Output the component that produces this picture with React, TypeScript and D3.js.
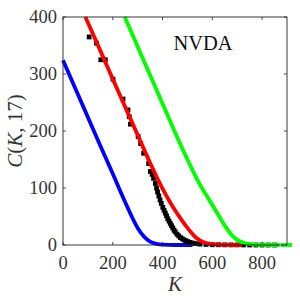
import React from "react";
import * as d3 from "d3";

// Strike K and call price C
const blueK = [0, 50, 100, 150, 200, 250, 275, 300, 325, 350, 375, 400, 450, 520];
const blueC = [324, 274, 224, 174, 125, 75, 51, 30, 15, 6, 2, 0.5, 0, 0];

const redK = [90, 150, 200, 250, 300, 350, 380, 400, 425, 450, 475, 500, 525, 550, 575, 600, 650, 720];
const redC = [400, 341, 291, 242, 193, 144, 116, 99, 79, 61, 45, 30, 17, 8, 3.5, 1.5, 0.3, 0];

const greenK = [248, 300, 350, 400, 450, 500, 550, 575, 600, 625, 650, 675, 700, 725, 750, 800, 870];
const greenC = [400, 348, 298, 248, 198, 150, 106, 88, 70, 52, 34, 19, 9, 4, 1.5, 0.3, 0];
const greenTailK = [882, 895, 907, 914];

const marketK = [105, 135, 152, 170, 201, 241, 261, 266, 271, 302, 312, 324, 344, 351, 358, 364, 371, 376, 380, 385, 390, 395, 401, 406, 411, 416, 421, 426, 431, 436, 441, 446, 451, 458, 465, 472, 479, 486, 493, 501, 510, 520, 532, 550, 575, 600, 625, 650, 675, 700, 725, 750, 775, 800, 825, 850];
const marketC = [365, 354, 325, 325, 291, 256, 237, 225, 212, 190, 178, 161, 143, 129, 124, 117, 108, 100, 93, 86, 79, 73, 66, 61, 56, 51, 46, 42, 38, 34, 30, 26, 23, 19, 16, 13, 11, 9, 7.5, 6, 4.5, 3.5, 2.5, 1.5, 1, 0.5, 0.4, 0.3, 0.2, 0.2, 0.1, 0.1, 0, 0, 0, 0];

const xTicks = [0, 200, 400, 600, 800];
const yTicks = [0, 100, 200, 300, 400];
const title = "NVDA";

const W = 300, H = 301;
const L = 63, R = 287, T = 17, B = 245;

export default function App() {
  const x = d3.scaleLinear().domain([0, 900]).range([L, R]);
  const y = d3.scaleLinear().domain([0, 400]).range([B, T]);
  const line = d3
    .line<[number, number]>()
    .x((d) => x(d[0]))
    .y((d) => y(d[1]))
    .curve(d3.curveMonotoneX);
  const pts = (ks: number[], cs: number[]) => ks.map((k, i) => [k, cs[i]] as [number, number]);
  const font = "'Liberation Serif', 'DejaVu Serif', serif";
  const tick = 3;
  return (
    <svg width={W} height={H} style={{ position: "absolute", left: 0, top: 0 }}>
      <rect x={0} y={0} width={W} height={H} fill="#fff" />
      {xTicks.map((t) => (
        <g key={"x" + t}>
          <line x1={x(t)} x2={x(t)} y1={B} y2={B - tick} stroke="#222" strokeWidth={0.8} />
          <line x1={x(t)} x2={x(t)} y1={T} y2={T + tick} stroke="#222" strokeWidth={0.8} />
          <text x={x(t)} y={268.5} textAnchor="middle" fontFamily={font} fontSize={18.5} fill="#333">
            {t}
          </text>
        </g>
      ))}
      {yTicks.map((t) => (
        <g key={"y" + t}>
          <line x1={L} x2={L + tick} y1={y(t)} y2={y(t)} stroke="#222" strokeWidth={0.8} />
          <line x1={R} x2={R - tick} y1={y(t)} y2={y(t)} stroke="#222" strokeWidth={0.8} />
          <text x={57} y={y(t) + 6.3} textAnchor="end" fontFamily={font} fontSize={18.5} fill="#333">
            {t}
          </text>
        </g>
      ))}
      <path d={line(pts(blueK, blueC)) || ""} fill="none" stroke="#0000ff" strokeWidth={3.8} />
      {marketK.map((k, i) => (
        <rect key={"m" + i} x={x(k) - 2.4} y={y(marketC[i]) - 2.4} width={4.8} height={4.8} fill="#000" />
      ))}
      <path d={line(pts(redK, redC)) || ""} fill="none" stroke="#ff0000" strokeWidth={3.8} />
      <path d={line(pts(greenK, greenC)) || ""} fill="none" stroke="#00ff00" strokeWidth={3.8} />
      {greenTailK.map((k, i) => (
        <rect key={"g" + i} x={x(k) - 1.5} y={y(0) - 1.9} width={3} height={3.8} fill="#00ff00" />
      ))}
      <rect x={L} y={T} width={R - L} height={B - T} fill="none" stroke="#222" strokeWidth={0.9} />
      <text x={203} y={50} textAnchor="middle" fontFamily={font} fontSize={20.5} fill="#111">
        {title}
      </text>
      <text x={175} y={291} textAnchor="middle" fontFamily={font} fontSize={21} fontStyle="italic" fill="#333">
        K
      </text>
      <text
        transform={`translate(22,${(T + B) / 2}) rotate(-90)`}
        textAnchor="middle"
        fontFamily={font}
        fontSize={21}
        fill="#333"
      >
        <tspan fontStyle="italic">C</tspan>
        <tspan>(</tspan>
        <tspan fontStyle="italic">K</tspan>
        <tspan>, 17)</tspan>
      </text>
    </svg>
  );
}
